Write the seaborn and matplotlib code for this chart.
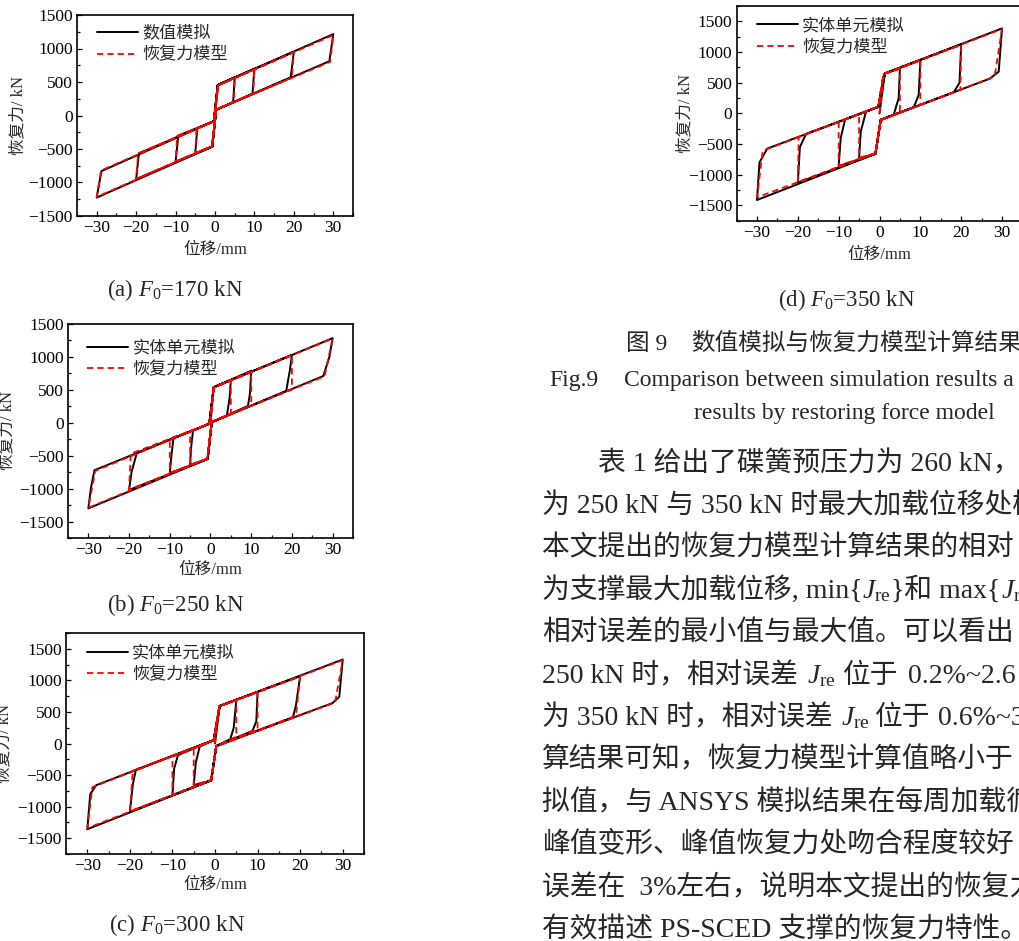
import matplotlib
matplotlib.use("Agg")
import pandas as pd
import seaborn as sns
import matplotlib.pyplot as plt
from matplotlib.ticker import MultipleLocator
from matplotlib.transforms import IdentityTransform

# loading amplitudes of the cycles (mm)
amp = [5, 10, 20, 30]

# ---- (a) F0 = 170 kN ----
a_sim_yield = [(0.7, 455), (-0.7, -465)]
a_sim_zero = [(0.3, 85), (-0.3, -85)]
a_sim_peak_pos = [570, 700, 950, 1215]
a_sim_drop_pos = [(4.6, 200), (9.5, 325), (19.2, 570), (29.0, 810)]
a_sim_peak_neg = [-565, -690, -950, -1225]
a_sim_drop_neg = [(-4.5, -190), (-9.3, -300), (-19.3, -565), (-28.8, -830)]

a_mod_yield = [(0.8, 450), (-0.8, -460)]
a_mod_zero = [(0.3, 90), (-0.3, -90)]
a_mod_peak_pos = [560, 690, 945, 1200]
a_mod_drop_pos = [(4.8, 205), (9.7, 330), (19.5, 565), (29.2, 800)]
a_mod_peak_neg = [-560, -685, -945, -1215]
a_mod_drop_neg = [(-4.7, -195), (-9.6, -305), (-19.5, -565), (-28.9, -820)]

# ---- (b) F0 = 250 kN ----
b_sim_yield = [(0.8, 540), (-0.7, -550)]
b_sim_zero = [(0.3, 10), (-0.3, -15)]
b_sim_peak_pos = [650, 790, 1030, 1285]
b_sim_knee_pos = [(4.7, 380), (9.7, 450), (19.5, 800), (29.2, 1000)]
b_sim_drop_pos = [(4.0, 100), (9.2, 255), (18.6, 485), (27.7, 710)]
b_sim_peak_neg = [-640, -765, -1020, -1300]
b_sim_knee_neg = [(-4.8, -400), (-9.6, -500), (-19.4, -750), (-29.4, -1000)]
b_sim_drop_neg = [(-4.3, -120), (-9.1, -235), (-18.1, -460), (-28.5, -720)]

b_mod_yield = [(0.8, 535), (-0.8, -545)]
b_mod_zero = [(0.3, 15), (-0.3, -15)]
b_mod_peak_pos = [645, 780, 1025, 1280]
b_mod_drop_pos = [(5.0, 140), (10.0, 265), (20.0, 510), (28.0, 705)]
b_mod_peak_neg = [-640, -760, -1015, -1290]
b_mod_drop_neg = [(-5.0, -135), (-10.0, -245), (-19.6, -470), (-28.3, -730)]

# ---- (c) F0 = 300 kN ----
c_sim_yield = [(1.1, 595), (-0.9, -585)]
c_sim_zero = [(0.3, -40), (-0.3, 55)]
c_sim_peak_pos = [690, 815, 1065, 1330]
c_sim_knee_pos = [(4.4, 250), (9.7, 350), (19.0, 600), (29.2, 740)]
c_sim_drop_pos = [(3.6, 70), (8.8, 200), (18.3, 415), (27.6, 640)]
c_sim_peak_neg = [-660, -816, -1080, -1358]
c_sim_knee_neg = [(-4.5, -300), (-9.6, -400), (-19.3, -650), (-29.3, -800)]
c_sim_drop_neg = [(-3.6, -50), (-8.7, -185), (-18.6, -420), (-27.9, -660)]

c_mod_yield = [(1.0, 590), (-0.9, -580)]
c_mod_zero = [(0.3, -45), (-0.3, 50)]
c_mod_peak_pos = [685, 810, 1060, 1320]
c_mod_drop_pos = [(5.0, 110), (10.0, 235), (19.0, 440), (28.2, 650)]
c_mod_peak_neg = [-655, -810, -1075, -1340]
c_mod_drop_neg = [(-5.0, -80), (-10.0, -210), (-19.3, -430), (-28.8, -690)]

# ---- (d) F0 = 350 kN ----
d_sim_yield = [(1.3, 650), (-1.0, -660)]
d_sim_zero = [(0.3, -105), (-0.3, 105)]
d_sim_peak_pos = [733, 870, 1125, 1385]
d_sim_knee_pos = [(4.7, 250), (9.6, 300), (19.6, 500), (29.2, 680)]
d_sim_drop_pos = [(3.5, -20), (8.4, 100), (18.2, 345), (27.0, 565)]
d_sim_peak_neg = [-733, -860, -1130, -1413]
d_sim_knee_neg = [(-4.6, -300), (-9.5, -400), (-19.5, -550), (-29.4, -800)]
d_sim_drop_neg = [(-3.3, 30), (-8.4, -97), (-18.0, -337), (-27.5, -575)]

d_mod_yield = [(1.0, 640), (-1.0, -650)]
d_mod_zero = [(0.3, -110), (-0.3, 110)]
d_mod_peak_pos = [725, 860, 1115, 1375]
d_mod_drop_pos = [(5.0, 15), (10.0, 140), (19.8, 385), (28.2, 600)]
d_mod_peak_neg = [-725, -855, -1125, -1370]
d_mod_drop_neg = [(-5.0, -15), (-10.0, -140), (-19.8, -385), (-28.6, -610)]

legend_a = ["数值模拟", "恢复力模型"]
legend_bcd = ["实体单元模拟", "恢复力模型"]
captions = ["(a) $F_0$=170 kN", "(b) $F_0$=250 kN", "(c) $F_0$=300 kN", "(d) $F_0$=350 kN"]


def loop_path(yld, zero, pk_p, drop_p, pk_n, drop_n, knee_p=None, knee_n=None):
    pts = [(0.0, 0.0)]
    for i, A in enumerate(amp):
        pts += [yld[0], (A, pk_p[i])]
        if knee_p:
            pts.append(knee_p[i])
        pts += [drop_p[i], zero[0], yld[1], (-A, pk_n[i])]
        if knee_n:
            pts.append(knee_n[i])
        pts += [drop_n[i], zero[1]]
    return pd.DataFrame(pts, columns=["disp", "force"])


sns.set_theme(style="ticks")
plt.rcParams["font.family"] = ["Liberation Serif", "Noto Sans CJK SC"]
plt.rcParams["mathtext.fontset"] = "custom"
plt.rcParams["mathtext.rm"] = "Liberation Serif"
plt.rcParams["mathtext.it"] = "Liberation Serif:italic"
plt.rcParams["axes.unicode_minus"] = True

W, H = 1020, 941
fig = plt.figure(figsize=(W / 100, H / 100), dpi=100)


def px_axes(l, t, r, b):
    return fig.add_axes([l / W, 1 - b / H, (r - l) / W, (b - t) / H])


panels = [
    dict(box=(77, 15, 353, 216), ylim=(-1500, 1500), leg=legend_a, lc=(0.072, 0.945),
         ylab=-0.214, xlab=-0.169,
         sim=loop_path(a_sim_yield, a_sim_zero, a_sim_peak_pos, a_sim_drop_pos, a_sim_peak_neg, a_sim_drop_neg),
         mod=loop_path(a_mod_yield, a_mod_zero, a_mod_peak_pos, a_mod_drop_pos, a_mod_peak_neg, a_mod_drop_neg)),
    dict(box=(68, 324, 353, 538), ylim=(-1750, 1500), leg=legend_bcd, lc=(0.067, 0.922),
         ylab=-0.211, xlab=-0.150,
         sim=loop_path(b_sim_yield, b_sim_zero, b_sim_peak_pos, b_sim_drop_pos, b_sim_peak_neg, b_sim_drop_neg,
                       b_sim_knee_pos, b_sim_knee_neg),
         mod=loop_path(b_mod_yield, b_mod_zero, b_mod_peak_pos, b_mod_drop_pos, b_mod_peak_neg, b_mod_drop_neg)),
    dict(box=(66, 633, 364, 854), ylim=(-1750, 1750), leg=legend_bcd, lc=(0.070, 0.943),
         ylab=-0.205, xlab=-0.140,
         sim=loop_path(c_sim_yield, c_sim_zero, c_sim_peak_pos, c_sim_drop_pos, c_sim_peak_neg, c_sim_drop_neg,
                       c_sim_knee_pos, c_sim_knee_neg),
         mod=loop_path(c_mod_yield, c_mod_zero, c_mod_peak_pos, c_mod_drop_pos, c_mod_peak_neg, c_mod_drop_neg)),
    dict(box=(736.6, 6, 1022.4, 220.7), ylim=(-1750, 1750), leg=legend_bcd, lc=(0.071, 0.942),
         ylab=-0.178, xlab=-0.158,
         sim=loop_path(d_sim_yield, d_sim_zero, d_sim_peak_pos, d_sim_drop_pos, d_sim_peak_neg, d_sim_drop_neg,
                       d_sim_knee_pos, d_sim_knee_neg),
         mod=loop_path(d_mod_yield, d_mod_zero, d_mod_peak_pos, d_mod_drop_pos, d_mod_peak_neg, d_mod_drop_neg)),
]

for p in panels:
    ax = px_axes(*p["box"])
    sns.lineplot(data=p["sim"], x="disp", y="force", sort=False, estimator=None, ax=ax,
                 color="black", lw=1.4, label=p["leg"][0])
    sns.lineplot(data=p["mod"], x="disp", y="force", sort=False, estimator=None, ax=ax,
                 color="#ff0000", lw=1.3, linestyle=(0, (3.5, 2.2)), label=p["leg"][1])
    ax.set_xlim(-35, 35)
    ax.set_ylim(*p["ylim"])
    ax.xaxis.set_major_locator(MultipleLocator(10))
    ax.xaxis.set_minor_locator(MultipleLocator(5))
    ax.yaxis.set_major_locator(MultipleLocator(500))
    ax.yaxis.set_minor_locator(MultipleLocator(250))
    ax.tick_params(which="both", direction="in", labelsize=12.5, width=0.9, pad=3, colors="black")
    ax.tick_params(which="major", length=3.5)
    ax.tick_params(which="minor", length=2)
    for s in ax.spines.values():
        s.set_linewidth(1.2)
        s.set_color("black")
    ax.set_xlabel("位移/mm", fontsize=12, va="center")
    ax.set_ylabel("恢复力/ kN", fontsize=12, va="center")
    ax.xaxis.set_label_coords(0.5, p["xlab"])
    ax.yaxis.set_label_coords(p["ylab"], 0.5)
    ax.legend(loc="upper left", bbox_to_anchor=p["lc"], frameon=False, fontsize=12.3,
              borderaxespad=0, borderpad=0, handlelength=2.4, handletextpad=0.25, labelspacing=0.3)

# sub-figure captions
for (cx, cy), txt in zip([(175, 290), (176, 605), (177, 925), (847, 300)], captions):
    fig.text(cx / W, 1 - cy / H, txt, fontsize=16.5, ha="center", va="center")

renderer = fig.canvas.get_renderer()


def put_line(x, yc, runs, size, lift):
    # draws runs of text left to right; numbers are gaps in pixels
    for item in runs:
        if isinstance(item, (int, float)):
            x += item
            continue
        t = fig.text(x, H - yc - lift, item, transform=IdentityTransform(), fontsize=size,
                     ha="left", va="baseline")
        x += t.get_window_extent(renderer).width


J = r"$J_{\mathrm{re}}$"
put_line(626, 341, ["图 9", 24, "数值模拟与恢复力模型计算结果"], 17, 8.5)
put_line(549, 378, ["Fig.9", 26, "Comparison between simulation results a"], 17, 8)
put_line(694, 411, ["results by restoring force model"], 17, 8)

body = [
    (598, ["表 1 给出了碟簧预压力为 260 kN，"]),
    (542, ["为 250 kN 与 350 kN 时最大加载位移处模"]),
    (542, ["本文提出的恢复力模型计算结果的相对"]),
    (542, ["为支撑最大加载位移, min{", J, "}和 max{", J, "}"]),
    (542, ["相对误差的最小值与最大值。可以看出"]),
    (542, ["250 kN 时，相对误差", 9, J, 7, "位于", 10, "0.2%~2.6"]),
    (542, ["为 350 kN 时，相对误差", 8, J, 6, "位于", 7, "0.6%~3"]),
    (542, ["算结果可知，恢复力模型计算值略小于"]),
    (542, ["拟值，与 ANSYS 模拟结果在每周加载循"]),
    (542, ["峰值变形、峰值恢复力处吻合程度较好"]),
    (542, ["误差在  3%左右，说明本文提出的恢复力"]),
    (542, ["有效描述 PS-SCED 支撑的恢复力特性。"]),
]
for k, (x0, runs) in enumerate(body):
    put_line(x0, 461 + 42.4 * k, runs, 20, 10)

fig.savefig("out.png", dpi=100)
